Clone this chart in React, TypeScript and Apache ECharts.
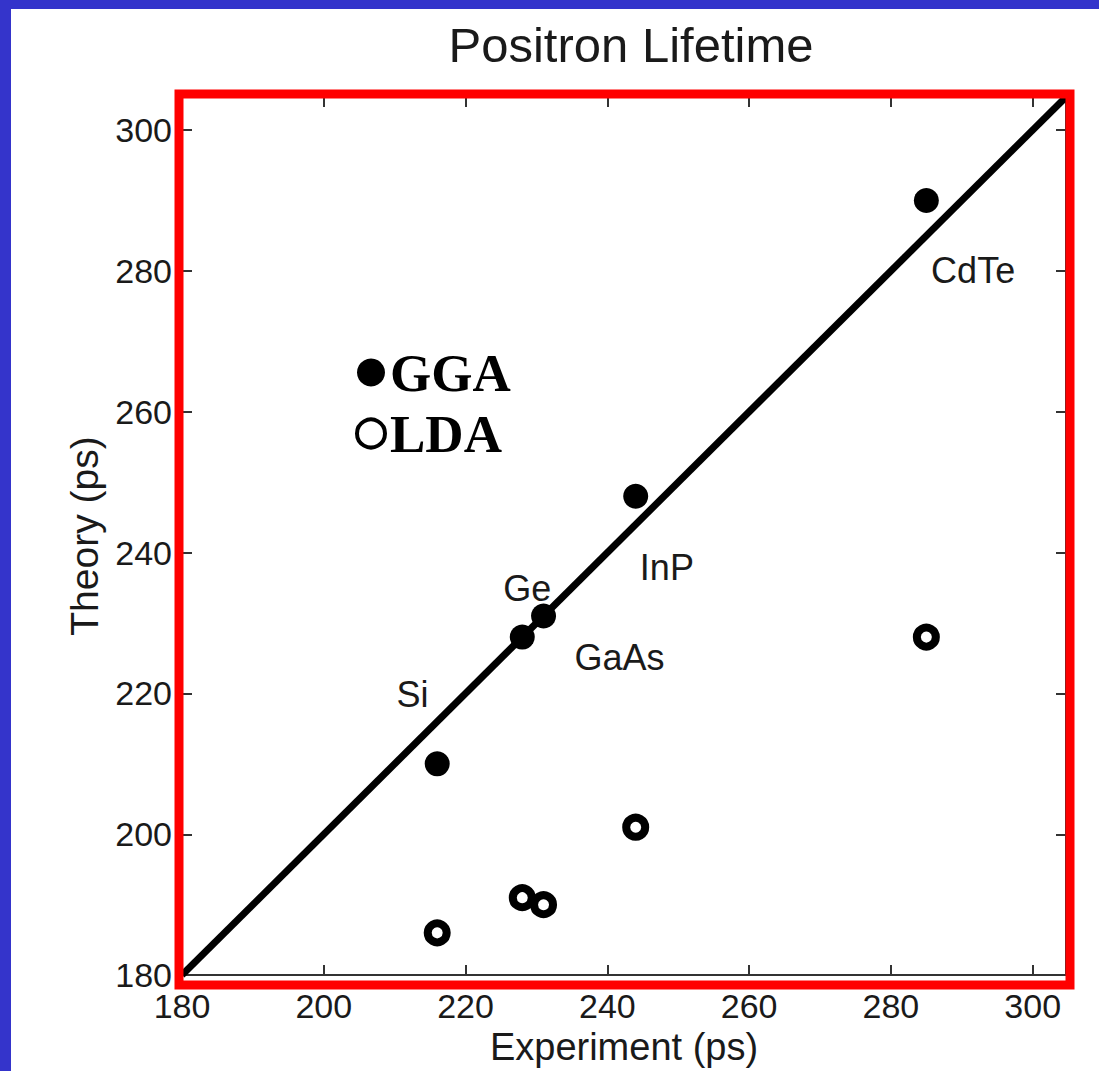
import React, { useEffect, useRef } from "react";
import * as echarts from "echarts";

// Positron lifetimes (ps): experiment vs. theory for two functionals
const materials = ["Si", "Ge", "GaAs", "InP", "CdTe"];
const experimentPs = [216, 228, 231, 244, 285];
const ggaTheoryPs = [210, 228, 231, 248, 290];
const ldaTheoryPs = [186, 191, 190, 201, 228];

// Axis extent and tick spacing (same for both axes)
const axisMin = 180;
const axisMax = 304.7;
const tickStep = 20;

// Where each material name sits, in data units (experiment, theory)
const materialLabelAt = [
  [212.5, 219.8],
  [228.7, 234.9],
  [241.7, 225.1],
  [248.4, 237.9],
  [291.6, 280.0],
];

const SANS = "'Liberation Sans', Arial, Helvetica, sans-serif";
const SERIF = "'Liberation Serif', 'Times New Roman', serif";

const tickLabel = (v: number) => (v % tickStep === 0 ? String(v) : "");

export default function App() {
  const ref = useRef<HTMLDivElement>(null);

  useEffect(() => {
    if (!ref.current) return;
    const chart = echarts.init(ref.current, undefined, { renderer: "svg" });

    const axisCommon = {
      type: "value" as const,
      min: axisMin,
      max: axisMax,
      interval: tickStep,
      splitLine: { show: false },
      axisLine: { show: true, lineStyle: { color: "#333", width: 2 } },
      axisTick: { show: true, inside: true, length: 10, lineStyle: { color: "#333", width: 2 } },
    };

    chart.setOption({
      animation: false,
      backgroundColor: "transparent",
      title: {
        text: "Positron Lifetime",
        left: 626,
        textAlign: "center",
        top: 15,
        textStyle: { fontFamily: SANS, fontSize: 49, fontWeight: "normal", color: "#1a1a1a" },
      },
      grid: { left: 182, top: 97, width: 884, height: 882 },
      legend: {
        data: [
          { name: "GGA", icon: "circle", itemStyle: { color: "#000", opacity: 1 } },
          {
            name: "LDA",
            icon: "circle",
            itemStyle: { color: "#fff", borderColor: "#000", borderWidth: 4, opacity: 1 },
          },
        ],
        orient: "vertical",
        left: 355,
        top: 346,
        padding: 0,
        itemWidth: 28,
        itemHeight: 28,
        itemGap: 8,
        selectedMode: false,
        textStyle: { fontFamily: SERIF, fontSize: 53, fontWeight: "bold", color: "#000" },
      },
      xAxis: [
        {
          ...axisCommon,
          position: "bottom",
          name: "Experiment (ps)",
          nameLocation: "middle",
          nameGap: 42,
          nameTextStyle: { fontFamily: SANS, fontSize: 38, color: "#1a1a1a" },
          axisLabel: {
            margin: 14,
            fontFamily: SANS,
            fontSize: 34,
            color: "#1a1a1a",
            formatter: tickLabel,
            showMaxLabel: false,
          },
        },
        {
          ...axisCommon,
          position: "top",
          axisLabel: { show: false },
        },
      ],
      yAxis: [
        {
          ...axisCommon,
          position: "left",
          name: "Theory (ps)",
          nameLocation: "middle",
          nameGap: 74,
          nameTextStyle: { fontFamily: SANS, fontSize: 39, color: "#1a1a1a" },
          axisLabel: {
            margin: 10,
            fontFamily: SANS,
            fontSize: 34,
            color: "#1a1a1a",
            formatter: tickLabel,
            showMaxLabel: false,
          },
        },
        {
          ...axisCommon,
          position: "right",
          axisLabel: { show: false },
        },
      ],
      series: [
        {
          name: "theory = experiment",
          type: "line",
          data: [
            [axisMin, axisMin],
            [axisMax, axisMax],
          ],
          symbol: "none",
          lineStyle: { color: "#000", width: 7 },
          silent: true,
          z: 2,
        },
        {
          name: "GGA",
          type: "scatter",
          data: experimentPs.map((x, i) => [x, ggaTheoryPs[i]]),
          symbol: "circle",
          symbolSize: 25,
          itemStyle: { color: "#000", opacity: 1 },
          z: 3,
        },
        {
          name: "LDA",
          type: "scatter",
          data: experimentPs.map((x, i) => [x, ldaTheoryPs[i]]),
          symbol: "circle",
          symbolSize: 19,
          itemStyle: { color: "#fff", borderColor: "#000", borderWidth: 8, opacity: 1 },
          z: 3,
        },
        {
          name: "materials",
          type: "scatter",
          data: materials.map((m, i) => ({ name: m, value: materialLabelAt[i] })),
          symbolSize: 1,
          itemStyle: { color: "transparent", opacity: 1 },
          silent: true,
          label: {
            show: true,
            position: "inside",
            formatter: "{b}",
            fontFamily: SANS,
            fontSize: 36,
            color: "#1a1a1a",
            opacity: 1,
          },
          z: 4,
        },
      ],
      graphic: [
        {
          type: "rect",
          shape: { x: 179, y: 94, width: 891, height: 891 },
          style: { fill: "none", stroke: "#ff0000", lineWidth: 9 },
          silent: true,
          z: 100,
        },
      ],
    });

    return () => chart.dispose();
  }, []);

  return (
    <div
      style={{
        position: "absolute",
        left: 0,
        top: 0,
        width: 1099,
        height: 1071,
        background: "#3434cb",
        overflow: "hidden",
      }}
    >
      <div
        style={{
          position: "absolute",
          left: 11,
          top: 9,
          right: 0,
          bottom: 0,
          background: "#ffffff",
        }}
      />
      <div ref={ref} style={{ position: "absolute", left: 0, top: 0, width: 1099, height: 1071 }} />
    </div>
  );
}
